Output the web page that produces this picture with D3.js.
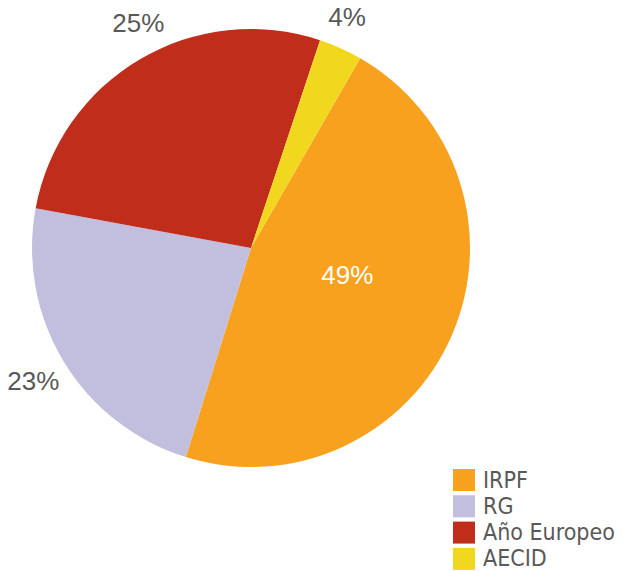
<!DOCTYPE html>
<html>
<head>
<meta charset="utf-8">
<script src="https://cdn.jsdelivr.net/npm/d3@7"></script>
<style>
  html, body { margin: 0; padding: 0; background: #fff; }
  svg { display: block; }
</style>
</head>
<body>
<svg id="chart" width="623" height="571"></svg>
<script>
// Data (slice shares) and the printed labels
const categories = ["IRPF", "RG", "Año Europeo", "AECID"];
const values = [46.5, 23.1, 27.2, 3.2];
const labels = ["49%", "23%", "25%", "4%"];
const colors = ["#F7A11E", "#C2BEDE", "#C02E1B", "#F1D81E"];

const svg = d3.select("#chart");
const cx = 251, cy = 248, R = 219;
const startDeg = 29.9;

const pie = d3.pie().sort(null).value(d => d)
  .startAngle(startDeg * Math.PI / 180)
  .endAngle((startDeg + 360) * Math.PI / 180);
const arcs = pie(values);

const arc = d3.arc().innerRadius(0).outerRadius(R);
const g = svg.append("g").attr("transform", `translate(${cx},${cy})`);

g.selectAll("path.slice").data(arcs).enter().append("path")
  .attr("class", "slice")
  .attr("d", arc)
  .attr("fill", (d, i) => colors[i]);

// labels (outside labels nudged like the spreadsheet's best-fit placement)
const outerArc = d3.arc().innerRadius(252).outerRadius(252);
const nudge = [[0, 0], [-2, 3], [15.5, -8], [-7, -1]];
g.selectAll("text.lbl").data(arcs).enter().append("text")
  .attr("class", "lbl")
  .attr("text-anchor", "middle")
  .attr("dominant-baseline", "central")
  .attr("font-family", "'Liberation Sans', Arial, sans-serif")
  .attr("font-size", 26)
  .attr("fill", (d, i) => i === 0 ? "#ffffff" : "#595959")
  .attr("transform", (d, i) => {
    if (i === 0) {
      const mid = (d.startAngle + d.endAngle) / 2 - 0.14;
      return `translate(${100 * Math.sin(mid)},${-100 * Math.cos(mid)})`;
    }
    const c = outerArc.centroid(d);
    return `translate(${c[0] + nudge[i][0]},${c[1] + nudge[i][1]})`;
  })
  .text((d, i) => labels[i]);

// legend
const lg = svg.append("g").attr("transform", "translate(453,469)");
const rows = lg.selectAll("g.row").data(categories).enter().append("g")
  .attr("class", "row")
  .attr("transform", (d, i) => `translate(0,${i * 26.3})`);
rows.append("rect").attr("width", 22).attr("height", 22)
  .attr("fill", (d, i) => colors[i]);
rows.append("text")
  .attr("x", 30).attr("y", 18.5)
  .attr("font-family", "'DejaVu Sans Condensed', 'DejaVu Sans', sans-serif")
  .attr("font-size", 23)
  .attr("fill", "#595959")
  .text(d => d);
</script>
</body>
</html>
